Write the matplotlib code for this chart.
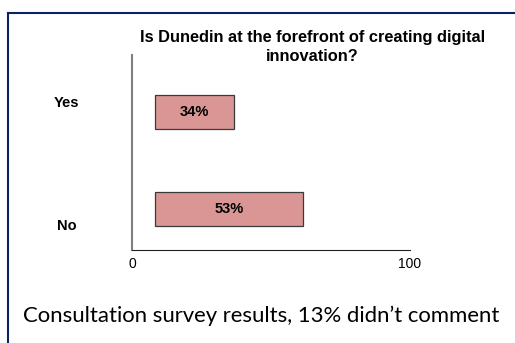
import matplotlib
matplotlib.use('Agg')
import matplotlib.pyplot as plt
from matplotlib.lines import Line2D

categories = ['Yes', 'No']
pct = [34, 53]
# bar extents as drawn in the picture (axis runs 0..100)
bar_left = 8.3
bar_len = [28.4, 53.2]
pos = [1, 0]
label_pos = [1.09, -0.17]

title = 'Is Dunedin at the forefront of creating digital\ninnovation?'
caption = 'Consultation survey results, 13% didn\u2019t comment'

plt.rcParams['font.family'] = ['Liberation Sans', 'DejaVu Sans']

fig = plt.figure(figsize=(5.15, 3.43), dpi=100)
ax = fig.add_axes([0.2563, 0.2711, 0.5398, 0.5685])

ax.barh(pos, bar_len, left=bar_left, height=0.35,
        color='#d99694', edgecolor='#3a3a3a', linewidth=0.9)
for p, v, w in zip(pos, pct, bar_len):
    ax.text(bar_left + w / 2, p, '%d%%' % v, ha='center', va='center',
            fontsize=10.5, fontweight='bold')
for p, c in zip(label_pos, categories):
    ax.text(-0.234, p, c, transform=ax.get_yaxis_transform(),
            ha='center', va='center', fontsize=10.5, fontweight='bold')

ax.set_xlim(0, 100)
ax.set_ylim(-0.42, 1.58)
ax.set_xticks([0, 100])
ax.set_xticklabels(['0', '100'], fontsize=10)
ax.tick_params(axis='x', length=0, pad=5)
ax.set_yticks([])
ax.spines['top'].set_visible(False)
ax.spines['right'].set_visible(False)
ax.spines['left'].set_color('#808080')
ax.spines['left'].set_linewidth(1.5)
ax.spines['bottom'].set_color('#222222')
ax.spines['bottom'].set_linewidth(0.8)

fig.text(0.606, 0.863, title, ha='center', va='center', fontsize=11.8,
         fontweight='bold', linespacing=1.3)
fig.text(0.508, 0.0612, caption, ha='center', va='baseline', fontsize=15.9,
         family=['Lato', 'DejaVu Sans'])

# frame (top and left edges only)
x0, y0 = 7.5 / 515, 1 - 13 / 343
fig.add_artist(Line2D([x0, 1], [y0, y0], transform=fig.transFigure,
                      color='#0a2463', linewidth=1.5))
fig.add_artist(Line2D([x0, x0], [0, y0], transform=fig.transFigure,
                      color='#0a2463', linewidth=1.5))

plt.savefig('out.png', dpi=100)
